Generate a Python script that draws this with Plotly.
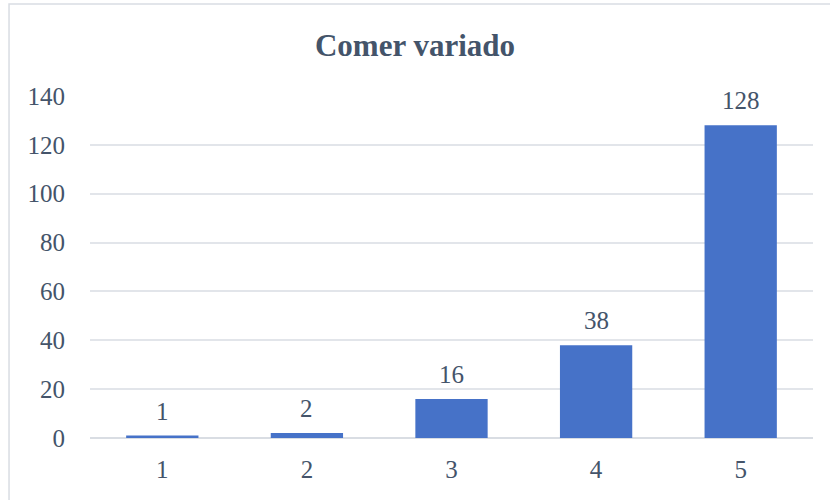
import plotly.graph_objects as go

categories = ["1", "2", "3", "4", "5"]
values = [1, 2, 16, 38, 128]

SERIF = "Liberation Serif, Times New Roman, serif"
TEXT = "#44546A"

fig = go.Figure()
fig.add_trace(go.Bar(
    x=categories, y=values,
    marker=dict(color="#4672C8", line=dict(width=0)),
))

# value labels above each bar (x given as category index)
for i, v in enumerate(values):
    fig.add_annotation(x=i, y=v, text=str(v), showarrow=False,
                       yanchor="bottom", yshift=9,
                       font=dict(family=SERIF, size=25, color=TEXT))

fig.update_layout(
    width=830, height=500,
    margin=dict(l=90, r=17, t=96, b=62),
    paper_bgcolor="white", plot_bgcolor="white",
    bargap=0.5,
    showlegend=False,
    title=dict(text="<b>Comer variado</b>", x=0.5, xanchor="center",
               y=1 - 45 / 500, yanchor="middle",
               font=dict(family=SERIF, size=31, color=TEXT)),
    font=dict(family=SERIF, size=25, color=TEXT),
    xaxis=dict(type="category", range=[-0.5, 4.5], showgrid=False, showline=False,
               ticks="", ticklabelstandoff=14,
               tickfont=dict(family=SERIF, size=25, color=TEXT)),
    yaxis=dict(range=[0, 140], dtick=20, gridcolor="#E2E5EA", gridwidth=1.5,
               zeroline=True, zerolinecolor="#D9DDE3", zerolinewidth=2,
               showline=False, ticks="", ticklabelstandoff=24,
               tickfont=dict(family=SERIF, size=25, color=TEXT)),
    shapes=[dict(type="rect", xref="paper", yref="paper",
                 x0=-0.112, x1=1.2, y0=-0.4, y1=1.269,
                 line=dict(color="#D9DDE3", width=1.5), fillcolor="rgba(0,0,0,0)",
                 layer="below")],
)

fig.write_html("out.html", config={"displayModeBar": False},
               post_script="document.body.style.margin='0px';")
